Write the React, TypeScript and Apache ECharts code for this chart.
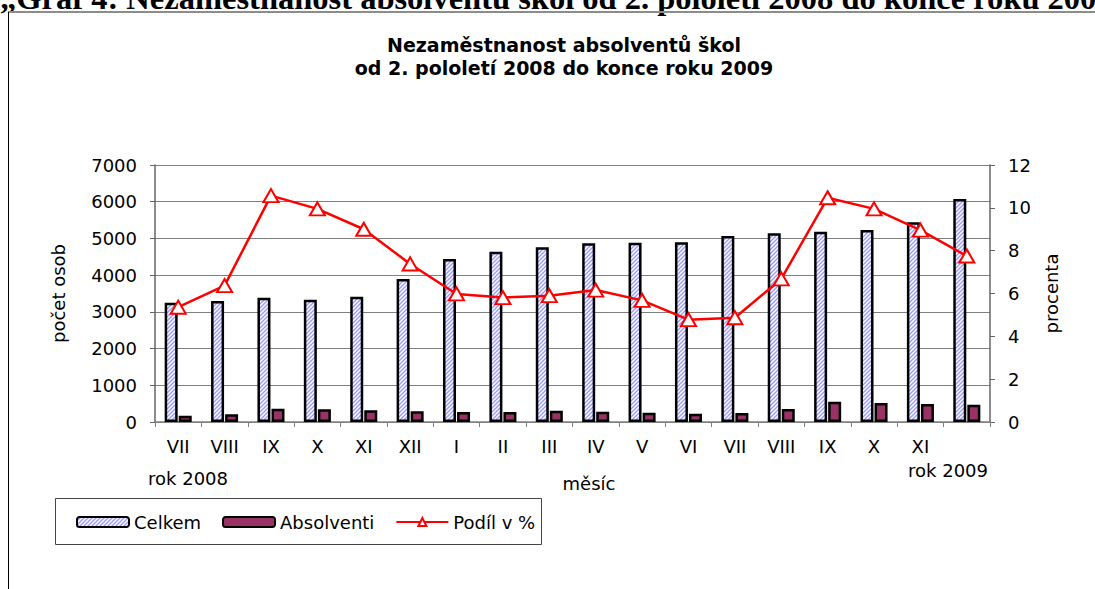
import React, { useEffect, useRef } from 'react';
import * as echarts from 'echarts';

const months = ['VII', 'VIII', 'IX', 'X', 'XI', 'XII', 'I', 'II', 'III', 'IV', 'V', 'VI', 'VII', 'VIII', 'IX', 'X', 'XI', ''];
const celkem = [3250, 3296, 3386, 3332, 3414, 3895, 4440, 4640, 4758, 4867, 4885, 4894, 5066, 5139, 5180, 5230, 5439, 6074];
const absolventi = [172, 209, 363, 345, 318, 291, 272, 272, 309, 281, 254, 227, 245, 354, 554, 517, 490, 472];
const podil = [5.36, 6.37, 10.57, 9.95, 9.0, 7.38, 5.98, 5.81, 5.9, 6.16, 5.68, 4.78, 4.87, 6.68, 10.47, 9.95, 8.96, 7.75];
const seriesNames = ['Celkem', 'Absolventi', 'Podíl v %'];

const pageTitle = '„Graf 4: Nezaměstnanost absolventů škol od 2. pololetí 2008 do konce roku 2009';
const chartTitle = 'Nezaměstnanost absolventů škol\nod 2. pololetí 2008 do konce roku 2009';

const FONT = "'DejaVu Sans', sans-serif";

export default function App() {
  const ref = useRef<HTMLDivElement>(null);
  useEffect(() => {
    if (!ref.current) return;
    const chart = echarts.init(ref.current, null, { renderer: 'svg' });

    const canvas = document.createElement('canvas');
    canvas.width = 4;
    canvas.height = 4;
    const ctx = canvas.getContext('2d')!;
    ctx.fillStyle = '#ffffff';
    ctx.fillRect(0, 0, 4, 4);
    ctx.strokeStyle = '#9999ff';
    ctx.lineWidth = 1.4;
    ctx.beginPath();
    ctx.moveTo(-1, 5); ctx.lineTo(5, -1);
    ctx.moveTo(-1, 1); ctx.lineTo(1, -1);
    ctx.moveTo(3, 5); ctx.lineTo(5, 3);
    ctx.stroke();
    const hatch: any = { image: canvas, repeat: 'repeat', imageWidth: 4, imageHeight: 4 };

    const labelStyle = { color: '#000', fontFamily: FONT, fontSize: 18 };

    chart.setOption({
      animation: false,
      backgroundColor: '#fff',
      title: {
        text: chartTitle,
        left: 559,
        top: 28,
        textAlign: 'center',
        textStyle: { fontFamily: FONT, fontSize: 19, fontWeight: 'bold', color: '#000', lineHeight: 23 },
      },
      legend: {
        left: 76,
        top: 512,
        padding: 0,
        itemWidth: 52,
        itemHeight: 10,
        itemGap: 21,
        data: seriesNames,
        textStyle: { ...labelStyle, lineHeight: 20 },
      },
      grid: { left: 155, right: 105, top: 165, bottom: 167, containLabel: false },
      xAxis: {
        type: 'category',
        data: months,
        axisLine: { lineStyle: { color: '#808080', width: 1.5 } },
        axisTick: { show: true, length: 5, interval: 0, lineStyle: { color: '#808080' } },
        axisLabel: { ...labelStyle, interval: 0, margin: 15 },
      },
      yAxis: [
        {
          type: 'value',
          min: 0,
          max: 7000,
          interval: 1000,
          name: 'počet osob',
          nameLocation: 'middle',
          nameRotate: 90,
          nameGap: 88,
          nameTextStyle: labelStyle,
          axisLine: { show: true, lineStyle: { color: '#666', width: 1.5 } },
          axisTick: { show: true, length: 5, lineStyle: { color: '#666' } },
          axisLabel: { ...labelStyle, margin: 18, formatter: (v: number) => String(v) },
          splitLine: { lineStyle: { color: '#808080', width: 1 } },
        },
        {
          type: 'value',
          min: 0,
          max: 12,
          interval: 2,
          name: 'procenta',
          nameLocation: 'middle',
          nameRotate: 90,
          nameGap: 52,
          nameTextStyle: labelStyle,
          axisLine: { show: true, lineStyle: { color: '#666', width: 1.5 } },
          axisTick: { show: true, length: 5, lineStyle: { color: '#666' } },
          axisLabel: { ...labelStyle, margin: 18, formatter: (v: number) => String(v) },
          splitLine: { show: false },
        },
      ],
      series: [
        {
          name: seriesNames[0],
          type: 'bar',
          data: celkem,
          barWidth: 13,
          barGap: '8%',
          itemStyle: { color: hatch, borderColor: '#000', borderWidth: 2.5 },
        },
        {
          name: seriesNames[1],
          type: 'bar',
          data: absolventi,
          barWidth: 13,
          itemStyle: { color: '#993366', borderColor: '#000', borderWidth: 2.5 },
        },
        {
          name: seriesNames[2],
          type: 'line',
          yAxisIndex: 1,
          data: podil,
          symbol: 'triangle',
          symbolSize: [15, 13],
          lineStyle: { color: '#ff0000', width: 2.5 },
          itemStyle: { color: '#fff', borderColor: '#ff0000', borderWidth: 2 },
          z: 5,
        },
      ],
      graphic: [
        {
          type: 'text',
          x: 0,
          y: -2,
          style: {
            text: pageTitle,
            fontFamily: "'Liberation Serif', serif",
            fontWeight: 'bold',
            fontSize: 32.5,
            fill: '#000',
            align: 'left',
            verticalAlign: 'middle',
          },
        },
        { type: 'line', shape: { x1: 8, y1: 12, x2: 1095, y2: 12 }, style: { stroke: '#8c8c8c', lineWidth: 2 } },
        { type: 'line', shape: { x1: 8.5, y1: 12, x2: 8.5, y2: 589 }, style: { stroke: '#000', lineWidth: 1 } },
        {
          type: 'text', x: 188, y: 478,
          style: { text: 'rok 2008', fontFamily: FONT, fontSize: 18, fill: '#000', align: 'center', verticalAlign: 'middle' },
        },
        {
          type: 'text', x: 948, y: 470,
          style: { text: 'rok 2009', fontFamily: FONT, fontSize: 18, fill: '#000', align: 'center', verticalAlign: 'middle' },
        },
        {
          type: 'text', x: 589, y: 483,
          style: { text: 'měsíc', fontFamily: FONT, fontSize: 18, fill: '#000', align: 'center', verticalAlign: 'middle' },
        },
        {
          type: 'rect', shape: { x: 55.5, y: 498.5, width: 486, height: 46 },
          style: { fill: 'none', stroke: '#444', lineWidth: 1 },
        },
      ],
    });
    return () => chart.dispose();
  }, []);
  return <div ref={ref} style={{ position: 'fixed', left: 0, top: 0, width: 1095, height: 589, background: '#fff' }} />;
}
